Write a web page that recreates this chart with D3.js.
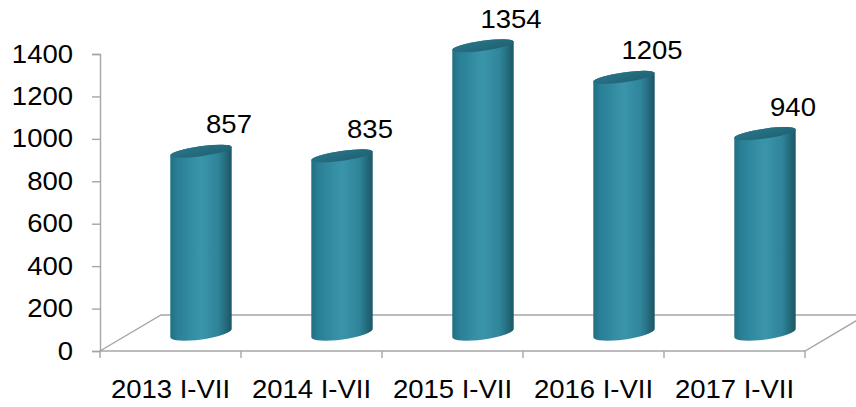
<!DOCTYPE html>
<html>
  <head>
    <meta charset="utf-8">
    <title>Cylinder chart</title>
    <script src="https://cdn.jsdelivr.net/npm/d3@7"></script>
    <style>
      body { margin: 0; background: #fff; }
      svg text { font-family: "Liberation Sans", Arial, sans-serif; fill: #000; }
    </style>
  </head>
  <body>
    <div id="chart"></div>

    <script>
      // chart values
      const categories = ['2013 I-VII', '2014 I-VII', '2015 I-VII', '2016 I-VII', '2017 I-VII'];
      const values = [857, 835, 1354, 1205, 940];
      const yTicks = [0, 200, 400, 600, 800, 1000, 1200, 1400];

      const width = 856, height = 407;
      const depthX = 61, depthY = 36;   // floor depth (3d offset)
      const rx = 31, ryTop = 5, ryBot = 6.5, tilt = -8;
      const stretch = 1.1;               // text in the picture is a bit wide
      const fontSize = '25px';

      const svg = d3.select('#chart')
        .append('svg')
        .attr('width', width)
        .attr('height', height);

      const x = d3.scaleBand().domain(categories).range([100, 805]);
      const y = d3.scaleLinear().domain([0, 1400]).range([351, 54]);
      // bars stand at the middle of the floor depth
      const cx = c => x(c) + x.bandwidth() / 2 + depthX / 2;
      const yb = v => y(v) - depthY / 2;

      // gradient for the cylinder body
      const defs = svg.append('defs');
      const grad = defs.append('linearGradient').attr('id', 'body')
        .attr('x1', 0).attr('x2', 1).attr('y1', 0).attr('y2', 0);
      [[0, '#226f83'], [0.12, '#2a8096'], [0.5, '#3a95ab'], [0.78, '#2f8499'], [1, '#1c5666']]
        .forEach(([o, c]) => grad.append('stop').attr('offset', o).attr('stop-color', c));
      const capGrad = defs.append('linearGradient').attr('id', 'cap')
        .attr('x1', 0).attr('x2', 1).attr('y1', 0).attr('y2', 1);
      [[0, '#2a7589'], [1, '#1f6173']]
        .forEach(([o, c]) => capGrad.append('stop').attr('offset', o).attr('stop-color', c));

      // floor
      const gray = '#a6a6a6';
      const x0 = x.range()[0], x1 = x.range()[1], y0 = y(0);
      svg.append('path')
        .attr('d', `M${x0},${y0} L${x1},${y0} L${x1 + depthX},${y0 - depthY} L${x0 + depthX},${y0 - depthY} Z`)
        .attr('fill', 'none')
        .attr('stroke', gray)
        .attr('stroke-width', 1.4);

      // category ticks under the floor
      svg.selectAll('line.ctick')
        .data(d3.range(categories.length + 1))
        .enter()
        .append('line')
        .attr('x1', i => x0 + i * x.bandwidth())
        .attr('x2', i => x0 + i * x.bandwidth())
        .attr('y1', y0)
        .attr('y2', y0 + 7)
        .attr('stroke', gray)
        .attr('stroke-width', 1.4);

      // y axis
      const yAxis = svg.append('g')
        .attr('transform', `translate(${x0},0)`)
        .call(d3.axisLeft(y).tickValues(yTicks).tickFormat(d3.format('d')).tickSize(8).tickPadding(20));
      yAxis.select('.domain').attr('stroke', gray).attr('stroke-width', 1.4);
      yAxis.selectAll('.tick line').attr('stroke', gray).attr('stroke-width', 1.4);
      yAxis.selectAll('.tick text')
        .attr('x', 0)
        .attr('transform', `translate(-27,0) scale(${stretch},1)`)
        .attr('font-size', null)
        .style('font-size', fontSize)
        .style('font-family', '"Liberation Sans", Arial, sans-serif');

      // cylinders
      const rad = tilt * Math.PI / 180;
      const ox = rx * Math.cos(rad), oy = rx * Math.sin(rad);
      const bars = svg.selectAll('g.bar')
        .data(categories.map((c, i) => ({ c, v: values[i] })))
        .enter()
        .append('g')
        .attr('class', 'bar');

      bars.append('path')
        .attr('d', d => {
          const c = cx(d.c), t = yb(d.v), b = yb(0);
          return `M${c - ox},${t - oy} L${c - ox},${b - oy}` +
            ` A${rx},${ryBot} ${tilt} 0 0 ${c + ox},${b + oy}` +
            ` L${c + ox},${t + oy}` +
            ` A${rx},${ryTop} ${tilt} 0 0 ${c - ox},${t - oy} Z`;
        })
        .attr('fill', 'url(#body)');

      bars.append('ellipse')
        .attr('cx', 0).attr('cy', 0)
        .attr('rx', rx).attr('ry', ryTop)
        .attr('transform', d => `translate(${cx(d.c)},${yb(d.v)}) rotate(${tilt})`)
        .attr('fill', 'url(#cap)');

      // value labels
      svg.selectAll('text.val')
        .data(categories.map((c, i) => ({ c, v: values[i] })))
        .enter()
        .append('text')
        .attr('class', 'val')
        .attr('text-anchor', 'middle')
        .attr('transform', d => `translate(${cx(d.c) + 28},${yb(d.v) - 18}) scale(${stretch},1)`)
        .style('font-size', fontSize)
        .text(d => d.v);

      // category labels
      svg.selectAll('text.cat')
        .data(categories)
        .enter()
        .append('text')
        .attr('class', 'cat')
        .attr('text-anchor', 'middle')
        .attr('transform', d => `translate(${x(d) + x.bandwidth() / 2},398) scale(${stretch},1)`)
        .style('font-size', fontSize)
        .text(d => d);
    </script>
  </body>
</html>
